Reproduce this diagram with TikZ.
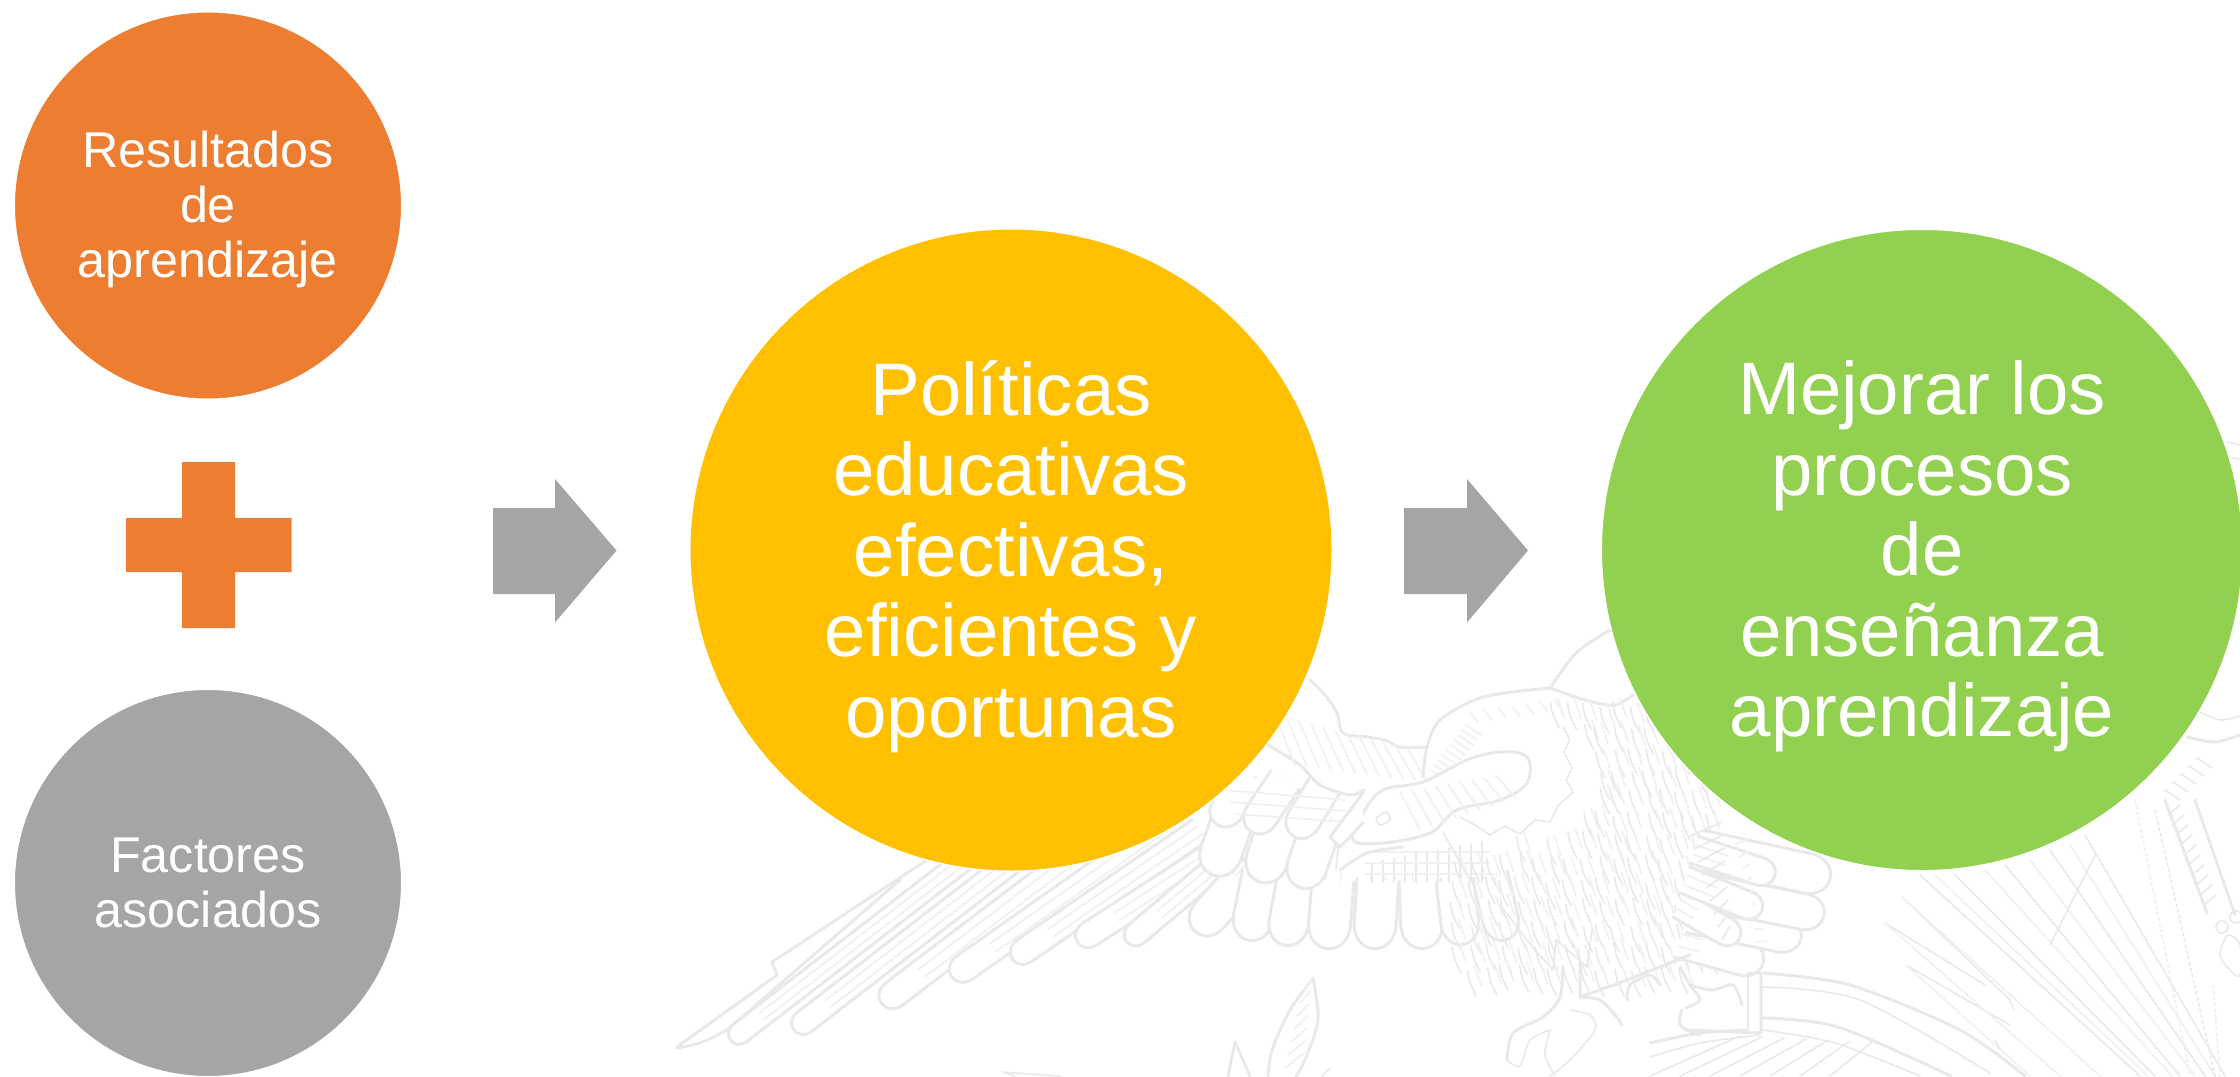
\documentclass[tikz,border=0pt]{standalone}
\usepackage{fontspec}
\setmainfont{Liberation Sans}
\definecolor{cOrange}{HTML}{ED7D31}
\definecolor{cGray}{HTML}{A5A5A5}
\definecolor{cYellow}{HTML}{FFC000}
\definecolor{cGreen}{HTML}{92D050}
\definecolor{wmA}{HTML}{E9E9E9}
\definecolor{wmB}{HTML}{F1F1F1}
\tikzset{
  disc/.style={circle,inner sep=0pt,minimum size=#1,draw=white,line width=1.5pt},
  smalltxt/.style={text=white,align=center,inner sep=0pt,font=\fontsize{50.3}{55}\selectfont},
  bigtxt/.style={text=white,align=center,inner sep=0pt,font=\fontsize{74.4}{80.5}\selectfont},
  wm/.style={draw=wmA,line width=3pt,line cap=round,line join=round},
  wmthin/.style={draw=wmB,line width=1.8pt,line cap=round,line join=round},
  wmmid/.style={draw=wmA,line width=1.6pt,line cap=round,line join=round}
}
% root x, root y, tip x, tip y, half width
\newcommand{\fea}[5]{%
  \pgfmathsetmacro\fdx{#1-#3}\pgfmathsetmacro\fdy{#2-#4}%
  \pgfmathsetmacro\flen{veclen(\fdx,\fdy)}%
  \pgfmathsetmacro\fux{\fdx/\flen}\pgfmathsetmacro\fuy{\fdy/\flen}%
  \pgfmathsetmacro\fnx{-\fuy*#5}\pgfmathsetmacro\fny{\fux*#5}%
  \pgfmathsetmacro\fsx{\fux*#5*1.6}\pgfmathsetmacro\fsy{\fuy*#5*1.6}%
  \draw[wm,fill=white] ({#1+\fnx},{#2+\fny}) -- ({#3+\fnx+\fsx},{#4+\fny+\fsy})
    .. controls ({#3+\fnx},{#4+\fny}) and ({#3-\fnx},{#4-\fny}) .. ({#3-\fnx+\fsx},{#4-\fny+\fsy})
    -- ({#1-\fnx},{#2-\fny});
  \draw[wmthin] ({#1+0.35*\fnx},{#2+0.35*\fny}) -- ({#3+0.35*\fnx+2.5*\fsx},{#4+0.35*\fny+2.5*\fsy});
  \draw[wmthin] ({#1-0.35*\fnx},{#2-0.35*\fny}) -- ({#3-0.35*\fnx+2.5*\fsx},{#4-0.35*\fny+2.5*\fsy});
}
\begin{document}
\begin{tikzpicture}[x=1pt,y=-1pt]
\useasboundingbox (0,0) rectangle (2240,1076);
\begin{scope}
\clip (0,0) rectangle (2240,1076);
% --- watermark: left wing, long feathers
\draw[wm] (677,1047) -- (777,975);
\draw[wm] (777,975) -- (772,962) -- (930,858);
\draw[wm] (677,1048) .. controls (700,1044) .. (727,1030) -- (900,880);
\foreach \ax/\ay/\bx/\by/\w in {
  990/840/727/1043/11, 1040/840/790/1033/12, 1110/830/877/1007/14, 1160/830/947/980/14,
  1200/830/1008/962/13, 1235/840/1073/945/13, 1260/830/1123/945/12}
  {\fea{\ax}{\ay}{\bx}{\by}{\w}}
\fea{1250}{870}{1190}{937}{19}
% --- secondary feathers
\foreach \ax/\ay/\bx/\by/\w in {
  1262/875/1247/948/20, 1297/880/1283/953/20, 1333/880/1327/957/21, 1378/880/1373/957/21,
  1420/880/1423/957/21, 1455/880/1463/952/19, 1490/875/1507/947/18}
  {\fea{\ax}{\ay}{\bx}{\by}{\w}}
% --- coverts, second row
\foreach \ax/\ay/\bx/\by/\w in {
  1240/800/1210/883/21, 1285/805/1257/890/21, 1325/815/1297/895/20}
  {\fea{\ax}{\ay}{\bx}{\by}{\w}}
% --- coverts, first row
\foreach \ax/\ay/\bx/\by/\w in {
  1250/775/1213/830/17, 1285/780/1247/837/17, 1325/785/1290/842/17}
  {\fea{\ax}{\ay}{\bx}{\by}{\w}}
\draw[wm] plot[smooth] coordinates {(1268,745) (1300,765) (1320,785) (1350,795) (1364,790)};
\foreach \t in {0,...,2}{
  \draw[wmthin] ({1225+\t*6},{790+\t*12}) -- (1345,{800+\t*11});
}
% --- upper wing edge
\draw[wm] plot[smooth] coordinates {(1310,680) (1325,695) (1337,713) (1343,733) (1367,737) (1385,740) (1400,747) (1427,747)};
\foreach \t in {0,...,11}{
  \draw[wmthin] ({1275+\t*12},{715+\t*3}) -- ({1295+\t*12},{765+\t*1.5});
}
% --- crest and neck
\draw[wm] plot[smooth] coordinates {(1423,777) (1427,747) (1440,720) (1483,697) (1550,688)};
\draw[wm] plot[smooth] coordinates {(1550,688) (1570,660) (1583,647) (1610,630)};
\draw[wm] plot[smooth] coordinates {(1550,688) (1585,700) (1615,705) (1640,690)};
\foreach \t in {0,...,9}{
  \draw[wmthin] ({1430+\t*4},{770-\t*5}) -- ({1445+\t*4},{780-\t*5});
}
\foreach \t in {0,...,6}{
  \draw[wmthin] ({1470+\t*14},{712-\t*2}) -- ({1478+\t*14},{722-\t*2});
}
% --- ruff
\draw[wmmid] (1563,727) -- (1570,740) -- (1564,752) -- (1572,768) -- (1566,780) -- (1573,792) -- (1558,806) -- (1550,822)
  -- (1535,820) -- (1520,834) -- (1505,826) -- (1490,835) -- (1475,825) -- (1460,817);
% --- cross-hatch below beak
\foreach \t in {0,...,10}{
  \draw[wmmid] ({1372+\t*11},{862-\t*2}) -- ({1372+\t*11},{882});
}
\foreach \t in {0,...,2}{
  \draw[wmthin] (1365,{852+\t*11}) -- (1490,{852+\t*11});
}
\draw[wmmid] (1443,832) -- (1470,880);
% --- body feathers
\pgfmathsetseed{11}
\foreach \px in {1450,1466,...,1710}{
  \foreach \py in {700,722,...,966}{
    \pgfmathtruncatemacro\skipit{or(((\px-1525)/62)^2+((\py-765)/68)^2<1,
       or(\py>1000-0.33*abs(\px-1570),and(\px<1500,\py<835)))}
    \ifnum\skipit=0
      \pgfmathsetmacro\rx{rnd*7}\pgfmathsetmacro\ry{rnd*8}
      \draw[wmmid] ({\px+\rx},{\py+\ry}) .. controls ({\px+\rx+2},{\py+\ry+12}) .. ({\px+\rx+9},{\py+\ry+26});
      \draw[wmthin] ({\px+\rx+7},{\py+\ry-4}) -- ({\px+\rx+14},{\py+\ry+16});
    \fi
  }
}
\draw[wmmid] (1500,905) -- (1535,950) -- (1553,970) -- (1556,940) -- (1587,967) -- (1592,930);
% --- head
\draw[wm,fill=white] plot[smooth cycle,tension=.6] coordinates {(1527,757) (1500,752) (1467,760) (1423,782) (1383,790) (1363,813) (1353,840) (1383,843) (1430,833) (1457,810) (1500,800) (1527,783)};
\draw[wm,fill=white] (1363,793) -- (1330,837) -- (1340,847) -- (1363,823);
\draw[wmmid] plot[smooth] coordinates {(1376,818) (1386,812) (1390,820) (1380,825) (1376,818)};
\draw[wm] plot[smooth] coordinates {(1340,870) (1367,853) (1403,847)};
\draw[wmmid] (1338,847) -- (1336,870);
\foreach \t in {0,...,8}{
  \draw[wmthin] ({1400+\t*12},{792-\t*2}) -- ({1420+\t*12},{830-\t*4});
}
% --- legs and claws
\draw[wm] plot[smooth] coordinates {(1563,967) (1560,997) (1543,1017) (1513,1033) (1507,1060)};
\draw[wm] plot[smooth] coordinates {(1580,963) (1580,997)} -- (1627,980);
\draw[wmmid] plot[smooth] coordinates {(1507,1060) (1520,1066) (1530,1040) (1550,1030)};
\draw[wmmid] plot[smooth] coordinates {(1550,1030) (1545,1055) (1555,1076)};
\draw[wm] plot[smooth] coordinates {(1580,997) (1600,1000) (1615,1015) (1622,1025)};
\draw[wm] plot[smooth] coordinates {(1627,1000) (1630,985) (1650,975) (1660,985)};
\draw[wmmid] plot[smooth] coordinates {(1570,1010) (1590,1015) (1595,1030) (1570,1060) (1550,1076)};
% --- tail fan
\foreach \ax/\ay/\bx/\by/\w in {
  1680/940/1770/965/18, 1690/915/1808/940/18, 1695/890/1831/917/18, 1700/850/1838/880/20}
  {\fea{\ax}{\ay}{\bx}{\by}{\w}}
\foreach \ax/\ay/\bx/\by/\w in {
  1680/905/1744/942/14, 1685/880/1767/913/14, 1695/850/1780/878/14}
  {\fea{\ax}{\ay}{\bx}{\by}{\w}}
\foreach \t in {0,...,8}{
  \draw[wmmid] ({1690+\t*4},{836+\t*13}) -- ({1722+\t*1},{822+\t*13});
  \draw[wmthin] ({1735+\t*4},{845+\t*12}) -- ({1748+\t*1},{838+\t*13});
}
% --- far leg
\draw[wm] (1627,980) -- (1690,955);
\draw[wm] plot[smooth] coordinates {(1680,967) (1690,985) (1700,1000) (1686,1008)};
\draw[wm] plot[smooth] coordinates {(1690,985) (1712,990) (1733,985) (1742,1005)};
\draw[wm] plot[smooth] coordinates {(1682,1010) (1680,1025) (1700,1035) (1700,1030)};
\draw[wm] (1748,973) -- (1761,973) -- (1761,1033) -- (1685,1030);
\draw[wmmid] (1748,973) -- (1748,1028);
% --- cactus pads
\draw[wm] plot[smooth] coordinates {(1763,973) (1850,985) (1960,1030) (2025,1076)};
\draw[wmmid] plot[smooth] coordinates {(1763,987) (1860,1000) (1990,1073)};
\draw[wm] plot[smooth] coordinates {(1763,1018) (1838,1027) (1951,1076)};
\draw[wmmid] plot[smooth] coordinates {(1763,1030) (1835,1043) (1920,1076)};
\draw[wm] plot[smooth] coordinates {(1650,1043) (1700,1033) (1748,1030)};
\draw[wmmid] plot[smooth] coordinates {(1650,1057) (1700,1043) (1760,1035)};
\foreach \t in {0,...,6}{
  \draw[wmmid] ({1650+\t*30},1076) -- ({1740+\t*22},{1036+\t*1});
}
% --- agave leaves
\foreach \ax/\ay/\bx/\by in {
  1902/897/2010/1000, 1885/923/1985/985, 1906/965/2010/1025,
  1920/875/2140/1076, 1955/875/2155/1076, 2005/865/2180/1076, 2050/850/2205/1076, 2085/835/2225/1076}
  {\draw[wmmid] (\ax,\ay) -- (\bx,\by);}
\draw[wmthin] (1902,897) -- (2100,1076);
\draw[wmthin] (1885,923) -- (2060,1076);
\draw[wmthin] (1906,965) -- (2030,1076);
\draw[wmthin] (1935,875) -- (2148,1076);
\draw[wmthin] (1985,870) -- (2172,1076);
\draw[wmthin] (2030,860) -- (2195,1076);
\draw[wmthin] (2070,845) -- (2215,1076);
\draw[wmmid] (2095,855) -- (2050,945);
\draw[wmmid,dashed] (2155,810) -- (2215,1076);
\draw[wmthin,dashed] (2135,800) -- (2190,1076);
\draw[wmmid] (2010,1000) -- (2014,1010);
\draw[wmmid] (1995,1040) -- (2000,1048);
% --- right branch with beads
\draw[wm] (2165,800) -- (2207,913);
\draw[wm] (2195,800) -- (2235,915);
\foreach \t in {0,...,9}{
  \draw[wmmid] ({2168+\t*4},{815+\t*10}) -- ({2180+\t*4},{805+\t*10});
}
\draw[wmmid] (2222,927) circle (6);
\draw[wmmid] (2236,917) circle (6);
\draw[wmmid] plot[smooth cycle] coordinates {(2228,935) (2240,945) (2240,975) (2232,972) (2220,955)};
\draw[wmthin,dashed] (2213,985) -- (2220,1076);
% --- upper right bits
\draw[wmmid] (2226,442) -- (2240,445);
\draw[wmmid] (2232,458) -- (2240,459);
\draw[wm] plot[smooth] coordinates {(2187,737) (2215,742) (2240,735)};
\draw[wmmid] plot[smooth] coordinates {(2200,712) (2220,720) (2240,716)};
\foreach \t in {0,...,4}{
  \draw[wmmid] ({2165+\t*8},{790-\t*8}) -- ({2180+\t*8},{800-\t*8});
}
% --- lower leaves
\draw[wm] plot[smooth] coordinates {(1313,978) (1290,1010) (1272,1050) (1268,1076)};
\draw[wm] plot[smooth] coordinates {(1313,978) (1318,1020) (1305,1060) (1296,1076)};
\foreach \t in {0,...,6}{
  \draw[wmthin] ({1285+\t*3},{1068-\t*13}) -- ({1305+\t*1},{1052-\t*12});
}
\draw[wm] (1235,1042) -- (1228,1076);
\draw[wm] (1235,1042) -- (1250,1076);
\draw[wmmid] (1060,1076) -- (1002,1072) -- (1015,1076);
\draw[wmmid] (1330,1068) -- (1322,1076);
\end{scope}
% --- circles
\node[disc=387.5pt,fill=cOrange] (res) at (208,205.5) {};
\node[disc=387.5pt,fill=cGray] (fac) at (208,883) {};
\node[disc=642.5pt,fill=cYellow] (pol) at (1011,550) {};
\node[disc=641.5pt,fill=cGreen] (mej) at (1922,550) {};
\node[smalltxt] (restxt) at ([yshift=-4.4pt]res.center) {Resultados\\de\\aprendizaje};
\node[smalltxt] (factxt) at ([yshift=0pt]fac.center) {Factores\\asociados};
\node[bigtxt] (poltxt) at ([yshift=-6.5pt]pol.center) {Políticas\\educativas\\efectivas,\\eficientes y\\oportunas};
\node[bigtxt] (mejtxt) at ([yshift=-6.5pt]mej.center) {Mejorar los\\procesos\\de\\enseñanza\\aprendizaje};
% --- plus
\fill[cOrange] (182,462) -- (235,462) -- (235,518) -- (291.5,518) -- (291.5,572) -- (235,572) -- (235,628) -- (182,628) -- (182,572) -- (126,572) -- (126,518) -- (182,518) -- cycle;
% --- block arrows
\fill[cGray] (493,508) -- (555,508) -- (555,479) -- (616.5,550.5) -- (555,622.5) -- (555,594) -- (493,594) -- cycle;
\fill[cGray] (1404,508) -- (1467,508) -- (1467,479) -- (1528,550.5) -- (1467,622.5) -- (1467,594) -- (1404,594) -- cycle;
\end{tikzpicture}
\end{document}
